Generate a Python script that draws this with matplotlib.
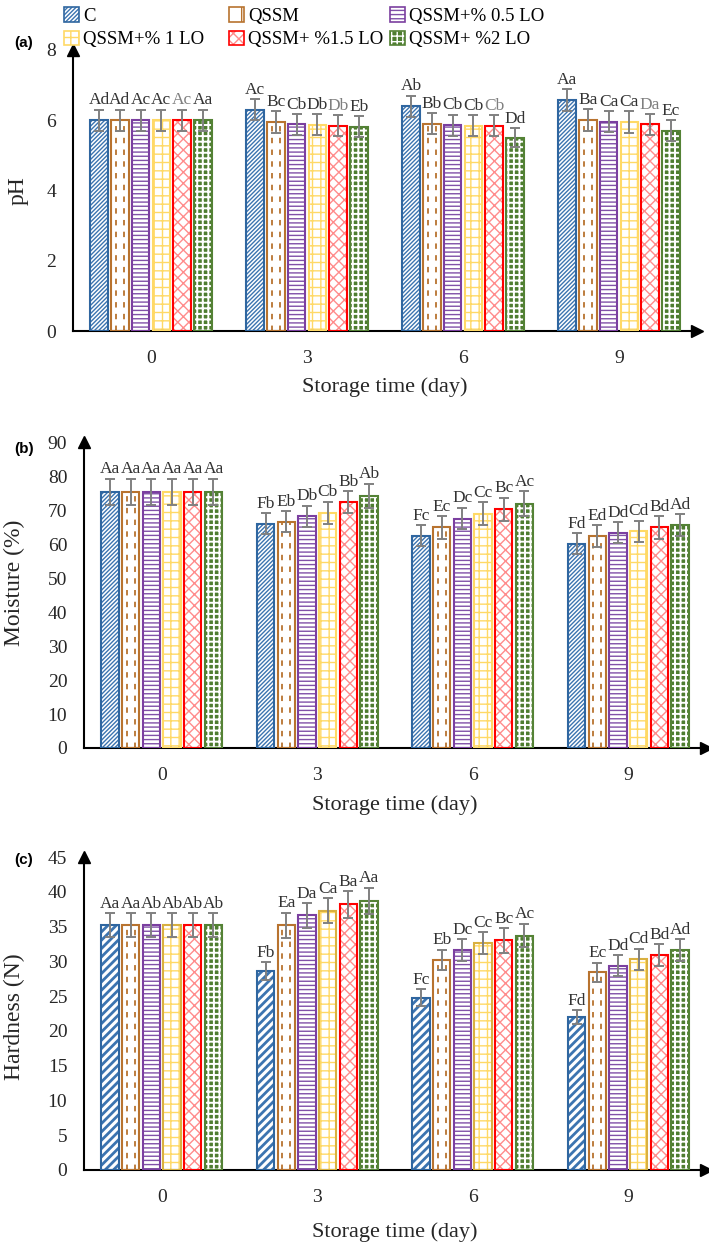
import matplotlib
matplotlib.use('Agg')
import matplotlib.pyplot as plt
import numpy as np
from matplotlib.patches import Patch
from matplotlib.legend_handler import HandlerTuple

plt.rcParams['font.family'] = ['Liberation Serif', 'DejaVu Serif']
plt.rcParams['hatch.linewidth'] = 1.0

days = ['0', '3', '6', '9']
series = ['C', 'QSSM', 'QSSM+% 0.5 LO', 'QSSM+% 1 LO', 'QSSM+ %1.5 LO', 'QSSM+ %2 LO']

# pH, one row per treatment, columns = day 0, 3, 6, 9
ph_mean = [[6.0, 6.30, 6.40, 6.57],
           [6.0, 5.95, 5.90, 6.00],
           [6.0, 5.88, 5.86, 5.96],
           [6.0, 5.87, 5.84, 5.94],
           [6.0, 5.85, 5.84, 5.88],
           [6.0, 5.82, 5.50, 5.70]]
ph_err = [[0.3, 0.3, 0.3, 0.32],
          [0.3, 0.3, 0.3, 0.31],
          [0.3, 0.3, 0.3, 0.3],
          [0.3, 0.3, 0.3, 0.31],
          [0.3, 0.3, 0.3, 0.3],
          [0.3, 0.3, 0.27, 0.3]]
ph_letters = [['Ad', 'Ac', 'Ab', 'Aa'],
              ['Ad', 'Bc', 'Bb', 'Ba'],
              ['Ac', 'Cb', 'Cb', 'Ca'],
              ['Ac', 'Db', 'Cb', 'Ca'],
              ['Ac', 'Db', 'Cb', 'Da'],
              ['Aa', 'Eb', 'Dd', 'Ec']]

# moisture (%)
moist_mean = [[75.3, 66.0, 62.4, 60.1],
              [75.3, 66.5, 64.9, 62.3],
              [75.3, 68.1, 67.5, 63.3],
              [75.3, 69.2, 68.9, 63.7],
              [75.3, 72.4, 70.2, 64.9],
              [75.3, 74.1, 71.9, 65.5]]
moist_err = [[3.9, 3.1, 3.1, 3.1],
             [3.9, 3.1, 3.3, 3.2],
             [3.9, 3.2, 3.2, 3.1],
             [3.9, 3.3, 3.4, 3.2],
             [3.9, 3.2, 3.4, 3.3],
             [3.9, 3.6, 3.6, 3.2]]
moist_letters = [['Aa', 'Fb', 'Fc', 'Fd'],
                 ['Aa', 'Eb', 'Ec', 'Ed'],
                 ['Aa', 'Db', 'Dc', 'Dd'],
                 ['Aa', 'Cb', 'Cc', 'Cd'],
                 ['Aa', 'Bb', 'Bc', 'Bd'],
                 ['Aa', 'Ab', 'Ac', 'Ad']]

# hardness (N)
hard_mean = [[35.2, 28.6, 24.8, 22.0],
             [35.2, 35.2, 30.2, 28.4],
             [35.2, 36.6, 31.6, 29.4],
             [35.2, 37.3, 32.6, 30.3],
             [35.2, 38.2, 33.0, 30.9],
             [35.2, 38.7, 33.7, 31.6]]
hard_err = [[1.7, 1.3, 1.2, 1.0],
            [1.7, 1.8, 1.5, 1.4],
            [1.7, 1.8, 1.6, 1.5],
            [1.7, 1.8, 1.6, 1.5],
            [1.7, 1.9, 1.8, 1.6],
            [1.7, 1.9, 1.7, 1.6]]
hard_letters = [['Aa', 'Fb', 'Fc', 'Fd'],
                ['Aa', 'Ea', 'Eb', 'Ec'],
                ['Ab', 'Da', 'Dc', 'Dd'],
                ['Ab', 'Ca', 'Cc', 'Cd'],
                ['Ab', 'Ba', 'Bc', 'Bd'],
                ['Ab', 'Aa', 'Ac', 'Ad']]

edge_col = ['#2F66A0', '#B8732F', '#7B3FA0', '#FFD966', '#FF0000', '#548235']
hatch_col = ['#3C74B0', '#B8732F', '#8050A8', '#FFD966', '#FF8C8C', 'white']
face_col = ['white', 'white', 'white', 'white', 'white', '#4E7D30']
hatch_pat = ['////////', '', '----', '++', 'xxx', '+++']

W = 0.111
PITCH = 0.133


def draw_panel(ax, means, errs, letters, ymax, ystep, ylabel, gray_red=False,
               c_hatch='////////', c_hlw=1.0, yellow_edge='#FFD966'):
    x = np.arange(len(days))
    for i in range(len(series)):
        xs = x + (i - 2.5) * PITCH
        hp = c_hatch if i == 0 else hatch_pat[i]
        ec = yellow_edge if i == 3 else edge_col[i]
        hlw = c_hlw if i == 0 else (1.4 if i == 5 else 1.0)
        with plt.rc_context({'hatch.linewidth': hlw}):
            bars = ax.bar(xs, means[i], W, color=face_col[i], edgecolor=hatch_col[i],
                          hatch=hp, linewidth=0, zorder=2)
            for b in bars:
                if hasattr(b, 'set_hatch_linewidth'):
                    b.set_hatch_linewidth(hlw)
        ax.bar(xs, means[i], W, fill=False, edgecolor=ec, linewidth=1.5, zorder=3)
        if i == 1:
            # dashed vertical pattern of the QSSM bars
            for k, dx in enumerate([-0.22, 0.22]):
                for xx, h in zip(xs, means[i]):
                    ax.plot([xx + dx * W, xx + dx * W], [0, h], color=edge_col[1],
                            lw=1.3, dashes=(3, 3.5), dash_capstyle='butt', zorder=2.5)
        ax.errorbar(xs, means[i], yerr=errs[i], fmt='none', ecolor='#808080',
                    elinewidth=1.4, capsize=3.5, capthick=1.4, zorder=4)
        for xx, m, e, t in zip(xs, means[i], errs[i], letters[i]):
            col = '#7F7F7F' if (gray_red and i == 4) else '#333333'
            ax.annotate(t, (xx, m + e), xytext=(0, 1), textcoords='offset points',
                        ha='center', va='bottom', fontsize=12.5, color=col, zorder=5)
    ax.set_xlim(-0.5, 3.5)
    ax.set_ylim(0, ymax)
    ax.set_xticks(x)
    ax.set_xticklabels(days)
    ax.set_yticks(np.arange(0, ymax + 0.01, ystep))
    ax.tick_params(length=0, labelsize=14, colors='#262626')
    ax.tick_params(axis='x', pad=14)
    ax.tick_params(axis='y', pad=12)
    for s in ['top', 'right']:
        ax.spines[s].set_visible(False)
    for s in ['left', 'bottom']:
        ax.spines[s].set_linewidth(1.5)
        ax.spines[s].set_color('black')
    ax.plot([1], [0], marker='>', color='black', ms=9, transform=ax.transAxes, clip_on=False)
    ax.plot([0], [1], marker='^', color='black', ms=9, transform=ax.transAxes, clip_on=False)
    ax.set_xlabel('Storage time (day)', fontsize=16, color='#262626', va='center')
    ax.set_ylabel(ylabel, fontsize=17, color='#262626', va='center')


fig = plt.figure(figsize=(7.09, 12.47), dpi=100)


def px_axes(left, right, top, bottom):
    return fig.add_axes([left / 709, 1 - bottom / 1247, (right - left) / 709, (bottom - top) / 1247])


ax1 = px_axes(73, 697, 50, 331)
ax2 = px_axes(84, 706, 442, 748)
ax3 = px_axes(84, 706, 857, 1170)

draw_panel(ax1, ph_mean, ph_err, ph_letters, 8, 2, 'pH', gray_red=True)
draw_panel(ax2, moist_mean, moist_err, moist_letters, 90, 10, 'Moisture (%)')
draw_panel(ax3, hard_mean, hard_err, hard_letters, 45, 5, 'Hardness (N)',
           c_hatch='////', c_hlw=2.0, yellow_edge='#D9B040')

ax1.yaxis.set_label_coords((18 - 73) / 624, 0.5)
ax2.yaxis.set_label_coords((14 - 84) / 622, 0.54)
ax3.yaxis.set_label_coords((14 - 84) / 622, 0.49)
ax1.xaxis.set_label_coords(0.5, -56 / 281)
ax2.xaxis.set_label_coords(0.5, -57 / 306)
ax3.xaxis.set_label_coords(0.5, -62 / 313)

for tag, y in [('(a)', 43), ('(b)', 449), ('(c)', 860)]:
    fig.text(14 / 709, 1 - y / 1247, tag, fontfamily='Liberation Sans', fontweight='bold',
             fontsize=11, ha='left', va='center')

# legend: three columns placed one by one
handles = []
for i in range(len(series)):
    hp = '|' if i == 1 else hatch_pat[i]
    handles.append((Patch(facecolor=face_col[i], edgecolor=hatch_col[i], hatch=hp, linewidth=0),
                    Patch(fill=False, edgecolor=edge_col[i], linewidth=1.2)))
columns = [(0, 3), (1, 4), (2, 5)]
col_x = [55, 220, 381]
for (a, b), cx in zip(columns, col_x):
    fig.legend([handles[a], handles[b]], [series[a], series[b]],
               loc='upper left', bbox_to_anchor=(cx / 709, 1 + 2 / 1247), frameon=False,
               fontsize=13.5, handlelength=0.8, handleheight=0.8, handletextpad=0.2,
               labelspacing=0.3, borderpad=0.0,
               handler_map={tuple: HandlerTuple(ndivide=1)})

fig.savefig('out.png', dpi=100)
